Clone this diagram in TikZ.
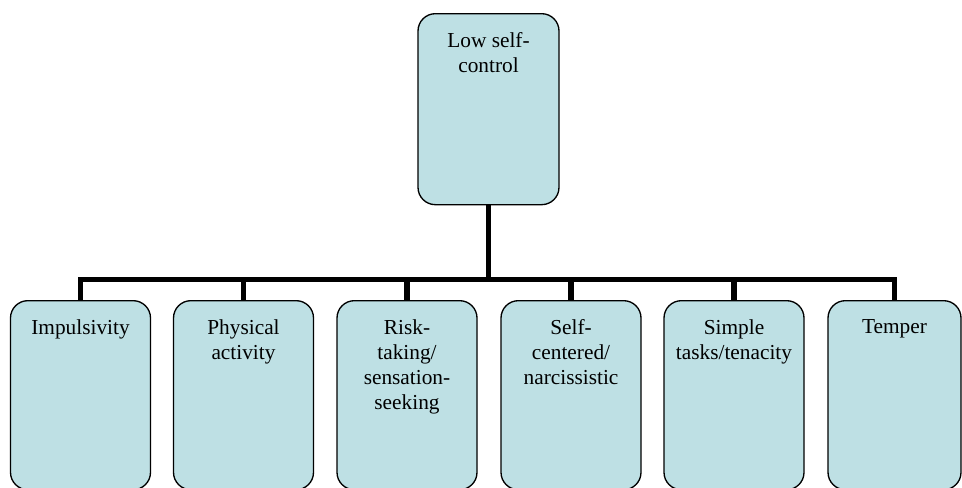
\documentclass[tikz,border=0pt]{standalone}
\usepackage{fontspec}
\setmainfont{Liberation Serif}
\usepackage{xcolor}
\usepackage{tikz}

\definecolor{boxfill}{RGB}{190,224,228}

\begin{document}
\begin{tikzpicture}[x=0.75pt,y=-0.75pt,
    trait/.style={draw,line width=1pt,fill=boxfill,rounded corners=13pt,
      anchor=north,minimum height=141.75pt,inner sep=0pt},
    lbl/.style={anchor=north,inner sep=0pt,align=center,
      font=\fontsize{16}{18.75}\selectfont},
    link/.style={line width=3.8pt,line join=miter}]
    \useasboundingbox (0,0) rectangle (962,487);
    % top of the tree
    \node[trait,minimum width=105.75pt,minimum height=143.25pt,
      label={[lbl,name=toplbl,label distance=-14.5pt]north:{Low self-\\control}}]
      (top) at (488.5,13) {};
    \coordinate (bus) at (488.5,279.5);
    % the six facets
    \foreach \n/\x/\w/\txt in {imp/80.5/105/Impulsivity,
        phys/243.5/105/{Physical\\activity},
        risk/407/105/{Risk-\\taking/\\sensation-\\seeking},
        self/571/105/{Self-\\centered/\\narcissistic},
        simp/734/105/{Simple\\tasks/tenacity},
        temp/894.5/99.75/Temper}
      \node[trait,minimum width=\w pt,
        label={[lbl,name=\n lbl,label distance=-14.5pt]north:{\txt}}]
        (\n) at (\x,300) {};
    \foreach \n in {imp,phys,risk,self,simp,temp}
      \draw[link] (top.south) -- (bus) -| (\n.north);
  \end{tikzpicture}
\end{document}
